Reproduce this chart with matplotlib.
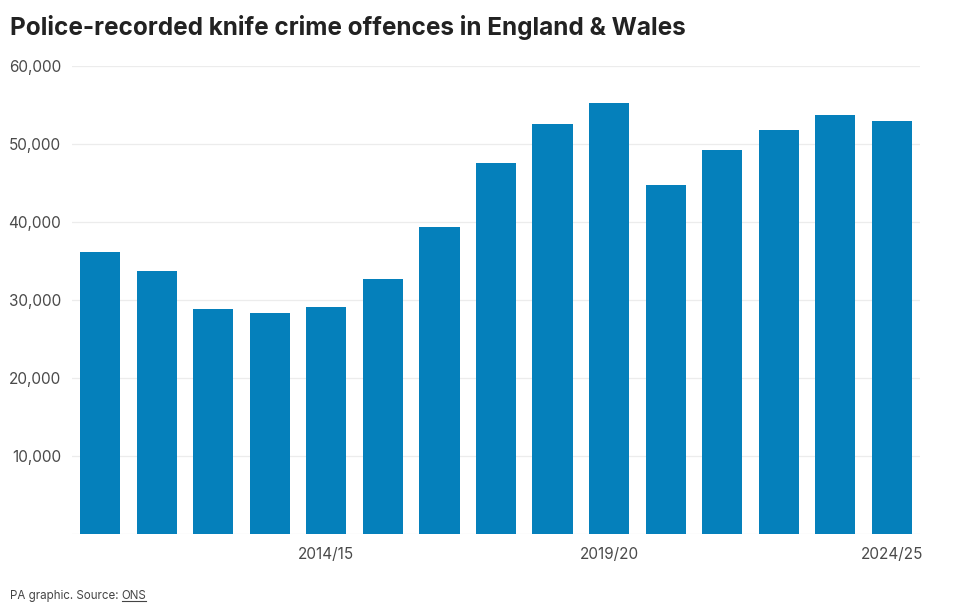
import matplotlib
matplotlib.use("Agg")
import matplotlib.pyplot as plt
from matplotlib.lines import Line2D

years = ["2010/11", "2011/12", "2012/13", "2013/14", "2014/15", "2015/16", "2016/17",
         "2017/18", "2018/19", "2019/20", "2020/21", "2021/22", "2022/23", "2023/24", "2024/25"]
offences = [36100, 33700, 28900, 28300, 29100, 32700, 39400,
            47500, 52500, 55200, 44700, 49200, 51800, 53700, 53000]
shown_labels = ["2014/15", "2019/20", "2024/25"]
y_ticks = [10000, 20000, 30000, 40000, 50000, 60000]

plt.rcParams['font.family'] = ['Inter', 'DejaVu Sans']

fig = plt.figure(figsize=(9.6, 6.11), dpi=100)
ax = fig.add_axes([0.075, 0.126, 0.8833, 0.766])

x = list(range(len(years)))
ax.bar(x, offences, width=0.71, color="#0580bb", zorder=3)

ax.set_ylim(0, 60000)
ax.set_xlim(-0.5, len(years) - 0.5)
ax.set_yticks(y_ticks)
ax.set_yticklabels([f"{v:,}" for v in y_ticks])
for v in [0] + y_ticks:
    ax.axhline(v, color="#ececec", lw=0.9, zorder=1)

ax.set_xticks([years.index(l) for l in shown_labels])
ax.set_xticklabels(shown_labels)

ax.tick_params(axis='both', length=0, labelsize=11, colors="#4a4a4a")
ax.tick_params(axis='y', pad=8)
ax.tick_params(axis='x', pad=9)
for s in ax.spines.values():
    s.set_visible(False)
ax.grid(False)

fig.text(0.0104, 0.955, "Police-recorded knife crime offences in England & Wales",
         fontsize=17.5, fontweight='bold', color="#222222", ha='left', va='center')

t1 = fig.text(0.0104, 0.024, "PA graphic. Source: ", fontsize=8.3, color="#444444",
              ha='left', va='center')
fig.canvas.draw()
r = fig.canvas.get_renderer()
bb = t1.get_window_extent(r)
x1 = bb.x1 / fig.bbox.width
t2 = fig.text(x1, 0.024, "ONS", fontsize=8.3, color="#444444", ha='left', va='center')
bb2 = t2.get_window_extent(r)
yb = (bb2.y0 + 1.5) / fig.bbox.height
fig.add_artist(Line2D([bb2.x0 / fig.bbox.width, bb2.x1 / fig.bbox.width], [yb, yb],
                      color="#444444", lw=0.8, transform=fig.transFigure))

fig.savefig("out.png", dpi=100, facecolor="white")
